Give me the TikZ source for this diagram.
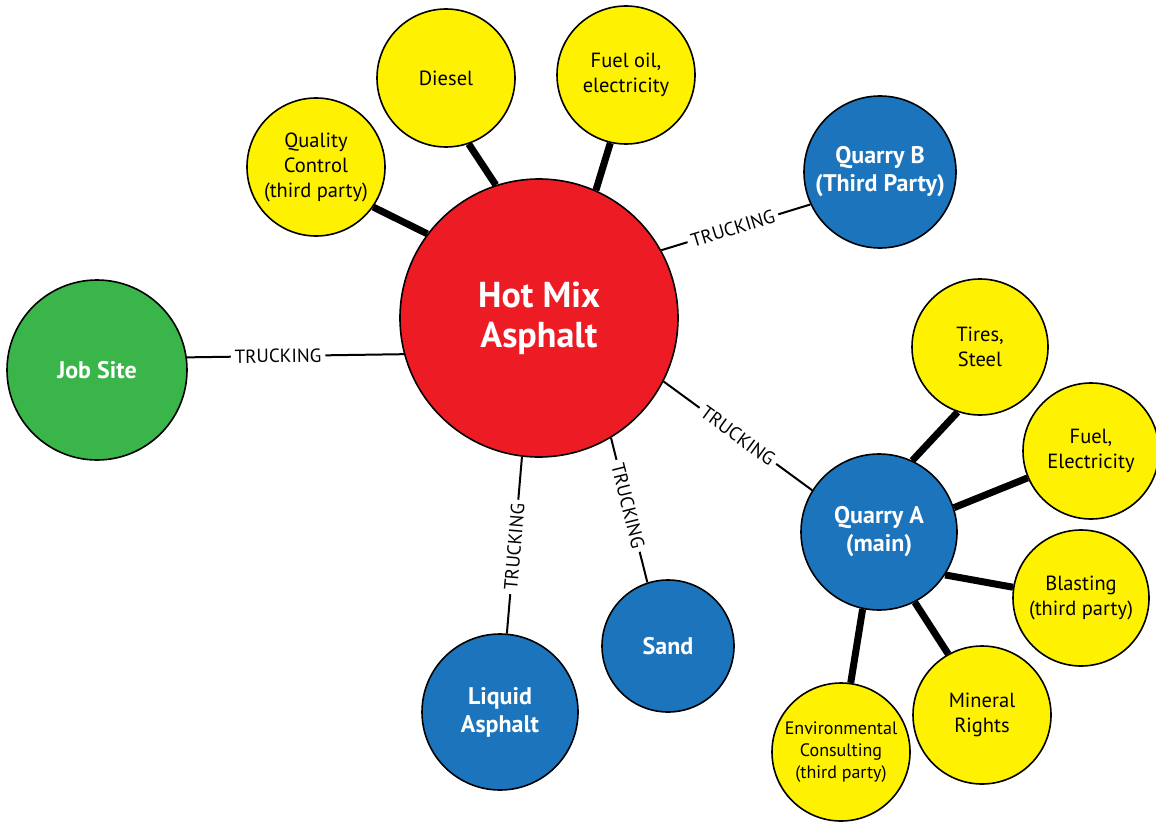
\documentclass[tikz,border=0pt]{standalone}
\usepackage{fontspec}
\setmainfont{PT Sans}
\definecolor{hotred}{HTML}{ED1C24}
\definecolor{sitegreen}{HTML}{39B54A}
\definecolor{supblue}{HTML}{1C75BC}
\definecolor{inyellow}{HTML}{FFF200}
\begin{document}
\begin{tikzpicture}[x=1pt,y=-1pt,
  bubble/.style={circle, draw=black, line width=1.6pt, inner sep=0pt, align=center},
  hotbub/.style={bubble, fill=hotred, text=white, font=\bfseries\fontsize{36}{40}\selectfont},
  bluebub/.style={bubble, fill=supblue, text=white, font=\bfseries\fontsize{24}{28}\selectfont},
  greenbub/.style={bubble, fill=sitegreen, text=white, font=\bfseries\fontsize{24}{28}\selectfont},
  yelbub/.style={bubble, fill=inyellow, text=black, font=\fontsize{20.5}{25}\selectfont},
  smallyel/.style={bubble, fill=inyellow, text=black, font=\fontsize{18}{22}\selectfont},
  haul/.style={line width=2pt},
  feed/.style={line width=7pt},
  lbl/.style={fill=white, inner sep=4pt, sloped, font=\fontsize{19}{22}\selectfont}]
\useasboundingbox (0,0) rectangle (1156,824);

% central plant
\node[hotbub, minimum size=278pt] (hot) at (539,318) {Hot Mix\\Asphalt};

% outlying sites
\node[greenbub, minimum size=180pt] (job) at (97,370) {Job Site};
\node[bluebub, minimum size=152pt] (qb) at (880,172) {Quarry B\\(Third Party)};
\node[bluebub, minimum size=156pt] (qa) at (879,532) {Quarry A\\(main)};
\node[bluebub, minimum size=156pt] (liq) at (500,712) {Liquid\\Asphalt};
\node[bluebub, minimum size=132pt] (sand) at (668,646) {Sand};

% plant inputs
\node[yelbub, minimum size=138pt] (qc) at (316,167) {Quality\\Control\\(third party)};
\node[yelbub, minimum size=138pt] (diesel) at (446,78) {Diesel};
\node[yelbub, minimum size=138pt] (fueloil) at (626,75) {Fuel oil,\\electricity};

% quarry inputs
\node[yelbub, minimum size=136pt] (tires) at (980,347) {Tires,\\Steel};
\node[yelbub, minimum size=136pt] (fuelel) at (1091,451) {Fuel,\\Electricity};
\node[yelbub, minimum size=136pt] (blast) at (1081,598) {Blasting\\(third party)};
\node[yelbub, minimum size=138pt] (mineral) at (982,715) {Mineral\\Rights};
\node[smallyel, minimum size=138pt] (env) at (841,752) {Environmental\\Consulting\\(third party)};

% trucking links
\draw[haul] (job.8) -- node[lbl, pos=.42] {TRUCKING} (hot.195);
\draw[haul] (hot.29) -- node[lbl, pos=.48] {TRUCKING} (qb.205);
\draw[haul] (hot.-27) -- node[lbl, pos=.50] {TRUCKING} (qa.148);
\draw[haul] (hot.263) -- node[lbl, pos=.51] {TRUCKING} (liq.85);
\draw[haul] (hot.-59) -- node[lbl, pos=.47] {TRUCKING} (sand.108);

% supply links to the plant
\draw[feed] (qc.-35) -- (hot.143);
\draw[feed] (diesel.-71) -- (hot.108);
\draw[feed] (fueloil.-103) -- (hot.66);

% supply links to the quarry
\draw[feed] (tires.-109) -- (qa.65);
\draw[feed] (fuelel.203) -- (qa.18);
\draw[feed] (blast.171) -- (qa.-33);
\draw[feed] (mineral.119) -- (qa.-63);
\draw[feed] (env.82) -- (qa.258);
\end{tikzpicture}
\end{document}
